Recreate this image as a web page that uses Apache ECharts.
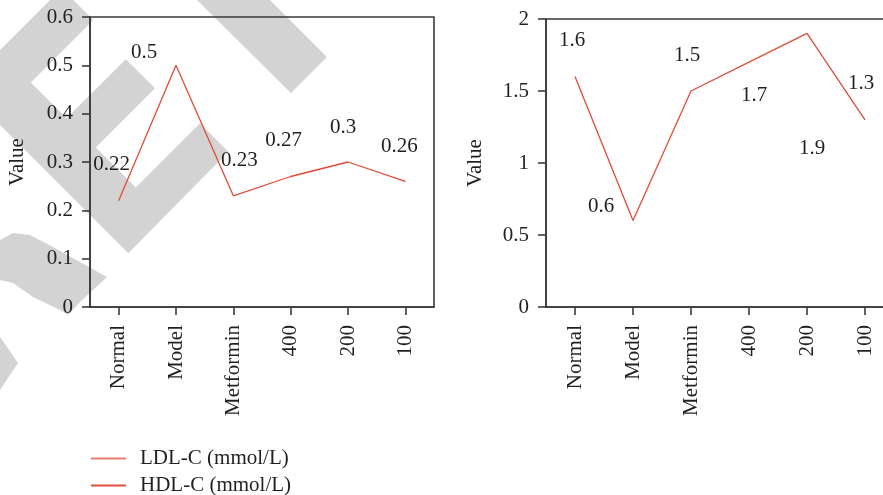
<!DOCTYPE html>
<html>
<head>
<meta charset="utf-8">
<script src="https://cdn.jsdelivr.net/npm/echarts@6/dist/echarts.min.js"></script>
<style>
html,body{margin:0;padding:0;background:#fff;}
#chart{width:883px;height:495px;}
</style>
</head>
<body>
<div id="chart"></div>
<script>
const categories = ['Normal', 'Model', 'Metformin', '400', '200', '100'];
const ldlValues = [0.22, 0.5, 0.23, 0.27, 0.3, 0.26];
const hdlValues = [1.6, 0.6, 1.5, 1.7, 1.9, 1.3];
const seriesNames = ['LDL-C (mmol/L)', 'HDL-C (mmol/L)'];
const ldlAxis = { min: 0, max: 0.6, interval: 0.1 };
const hdlAxis = { min: 0, max: 2, interval: 0.5 };

// label placement (styling only)
const ldlLabelOffset = [[-7, -36], [-32, -13], [6, -35], [-7, -36], [-5, -35], [-6, -35]];
const hdlLabelOffset = [[-3, -36], [-32, -14], [-4, -36], [5, 33], [5, 115], [-4, -36]];

const FONT = 'Liberation Serif';
const TXT = '#231f20';
const AX = '#3a3a3a';
const RED = '#e34b38';
const LEGEND_COLORS = ['#e8806c', '#e0503c'];
const FS = 21;

function xAxisCfg(gi) {
  return {
    type: 'category', gridIndex: gi, data: categories, boundaryGap: true,
    axisLine: { show: true, lineStyle: { color: AX, width: 1.6 } },
    axisTick: { show: true, alignWithLabel: true, length: 8, lineStyle: { color: AX, width: 1.6 } },
    axisLabel: { rotate: 90, margin: 18, fontFamily: FONT, fontSize: FS, color: TXT },
    splitLine: { show: false }
  };
}
function yAxisCfg(gi, ax, gap) {
  return {
    type: 'value', gridIndex: gi, min: ax.min, max: ax.max, interval: ax.interval,
    name: 'Value', nameLocation: 'middle', nameGap: gap, nameRotate: 90,
    nameTextStyle: { fontFamily: FONT, fontSize: FS, color: TXT },
    axisLine: { show: true, lineStyle: { color: AX, width: 1.6 } },
    axisTick: { show: true, length: 8, lineStyle: { color: AX, width: 1.6 } },
    axisLabel: { margin: 17, fontFamily: FONT, fontSize: FS, color: TXT },
    splitLine: { show: false }
  };
}
function seriesCfg(name, values, offsets, gi) {
  return {
    name: name, type: 'line', xAxisIndex: gi, yAxisIndex: gi,
    symbol: 'circle', symbolSize: 2, showSymbol: true,
    itemStyle: { color: 'rgba(0,0,0,0)', borderWidth: 0 },
    lineStyle: { color: RED, width: 1.3 },
    label: { show: true, position: 'inside', fontFamily: FONT, fontSize: FS, color: TXT },
    emphasis: { disabled: true },
    data: values.map((v, i) => ({ value: v, label: { offset: offsets[i] } })),
    z: 3
  };
}

const G = '#d3d3d3';
const watermark = [
  [[0,50],[50,0],[73.3,0],[93.3,20],[30.8,82.5],[66.7,118.3],[125.8,59.2],[155,88.3],[95.8,147.5],[135.8,187.5],[200,123.3],[228.3,151.7],[128.3,253.3],[0,125]],
  [[197,0],[270,0],[327,57],[291,93]],
  [[0,240],[13,233],[30,235],[53,247],[107,277],[80,302],[68,315],[60,310],[33,297],[13,283],[0,280]],
  [[0,337],[18,363],[0,390]]
].map(p => ({ type: 'polygon', z: -10, silent: true, shape: { points: p }, style: { fill: G } }));

const chart = echarts.init(document.getElementById('chart'), null, { renderer: 'canvas' });
chart.setOption({
  backgroundColor: '#fff',
  animation: false,
  graphic: watermark,
  grid: [
    { left: 90, top: 17, width: 344, height: 290, show: true, borderColor: AX, borderWidth: 1.6, backgroundColor: 'transparent', containLabel: false, outerBoundsMode: 'none' },
    { left: 546, top: 19, width: 348, height: 288, show: true, borderColor: AX, borderWidth: 1.6, backgroundColor: 'transparent', containLabel: false, outerBoundsMode: 'none' }
  ],
  legend: {
    left: 91, top: 448, width: 300, height: 60, orient: 'vertical', padding: 0, itemWidth: 35, itemHeight: 20, itemGap: 6,
    icon: 'path://M0,9L35,9L35,11L0,11Z',
    data: seriesNames.map((n, i) => ({ name: n, itemStyle: { color: LEGEND_COLORS[i], opacity: 1, borderWidth: 0 } })),
    textStyle: { fontFamily: FONT, fontSize: FS, lineHeight: 20, color: TXT, padding: [0, 0, 0, 9] }
  },
  xAxis: [xAxisCfg(0), xAxisCfg(1)],
  yAxis: [yAxisCfg(0, ldlAxis, 62), yAxisCfg(1, hdlAxis, 60)],
  series: [
    seriesCfg(seriesNames[0], ldlValues, ldlLabelOffset, 0),
    seriesCfg(seriesNames[1], hdlValues, hdlLabelOffset, 1)
  ]
});
</script>
</body>
</html>
